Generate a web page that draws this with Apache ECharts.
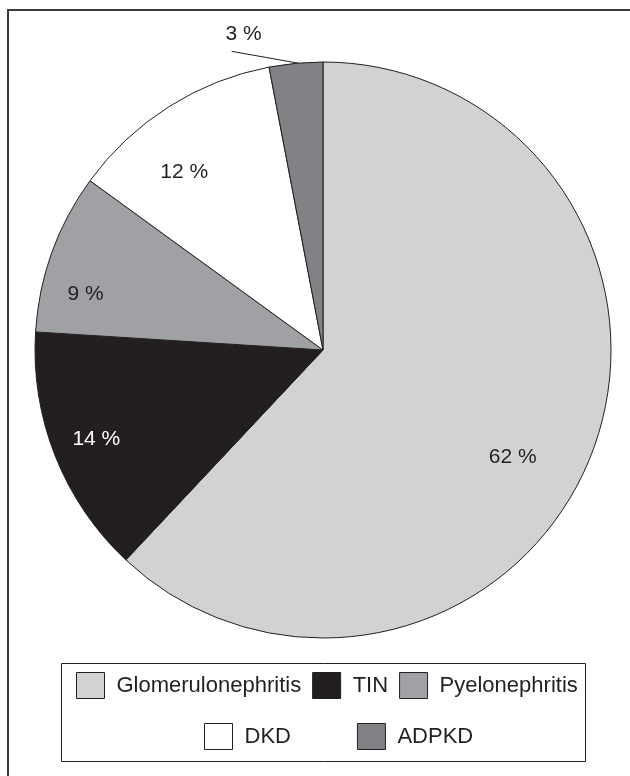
<!DOCTYPE html>
<html>
<head>
<meta charset="utf-8">
<script src="https://cdn.jsdelivr.net/npm/echarts@6/dist/echarts.min.js"></script>
<style>
  html, body { margin: 0; padding: 0; background: #fff; }
  #chart { width: 630px; height: 776px; }
</style>
</head>
<body>
<div id="chart"></div>
<script>
// data
var causes = ['Glomerulonephritis', 'TIN', 'Pyelonephritis', 'DKD', 'ADPKD'];
var shares = [62, 14, 9, 12, 3];
var legendRow1 = ['Glomerulonephritis', 'TIN', 'Pyelonephritis'];
var legendRow2 = ['DKD', 'ADPKD'];

// styles
var fills = ['#d1d2d4', '#231f20', '#a0a1a4', '#ffffff', '#808285'];
var labelColors = ['#231f20', '#ffffff', '#231f20', '#231f20', '#231f20'];
// nudges of each label from where echarts puts it
var labelShift = [[53, 53], [-90, 35], [-99, -6], [-60, -54], [-8, -16]];
var ink = '#231f20';
var font = 'Liberation Sans, Arial, Helvetica, sans-serif';

var pieData = causes.map(function (name, i) {
    var item = {
        name: name,
        value: shares[i],
        itemStyle: { color: fills[i] },
        label: { color: labelColors[i] }
    };
    if (i === 4) {
        item.label.position = 'outside';
        item.labelLine = { show: true, length: 13, length2: 20 };
    }
    return item;
});

var myChart = echarts.init(document.getElementById('chart'));

function legendBase(data, left, top, gap) {
    return {
        data: data,
        left: left,
        top: top,
        orient: 'horizontal',
        padding: 0,
        icon: 'rect',
        itemWidth: 28,
        itemHeight: 26,
        itemGap: gap,
        selectedMode: false,
        itemStyle: { borderColor: ink, borderWidth: 1 },
        textStyle: {
            fontFamily: font,
            fontSize: 22,
            color: ink,
            padding: [8, 0, 0, 7]
        }
    };
}

myChart.setOption({
    animation: false,
    backgroundColor: '#ffffff',
    legend: [
        legendBase(legendRow1, 76, 672, 11),
        legendBase(legendRow2, 204, 723, 66)
    ],
    graphic: [
        {
            type: 'rect',
            shape: { x: 8, y: 10, width: 700, height: 800 },
            style: { fill: null, stroke: '#3a3a3a', lineWidth: 2 },
            silent: true
        },
        {
            type: 'rect',
            shape: { x: 61.5, y: 663.5, width: 524, height: 98 },
            style: { fill: null, stroke: ink, lineWidth: 1 },
            silent: true
        }
    ],
    series: [{
        name: 'Cause',
        type: 'pie',
        center: [323, 350],
        radius: 288,
        startAngle: 90,
        clockwise: true,
        avoidLabelOverlap: false,
        emphasis: { disabled: true },
        itemStyle: { borderColor: ink, borderWidth: 1 },
        label: {
            show: true,
            position: 'inside',
            fontFamily: font,
            fontSize: 21,
            formatter: function (p) { return p.value + ' %'; }
        },
        labelLine: { show: false, lineStyle: { color: ink, width: 1 } },
        labelLayout: function (p) {
            var s = labelShift[p.dataIndex];
            var r = p.labelRect;
            var cx = r.x + r.width / 2 + s[0];
            var cy = r.y + r.height / 2 + s[1];
            var out = { x: cx, y: cy, align: 'center', verticalAlign: 'middle' };
            if (p.labelLinePoints) {
                var a = p.labelLinePoints[0];
                var start = [a[0] + 3, a[1]];
                out.labelLinePoints = [start, start, [cx - 12, cy + 17]];
            }
            return out;
        },
        data: pieData
    }]
});
</script>
</body>
</html>
